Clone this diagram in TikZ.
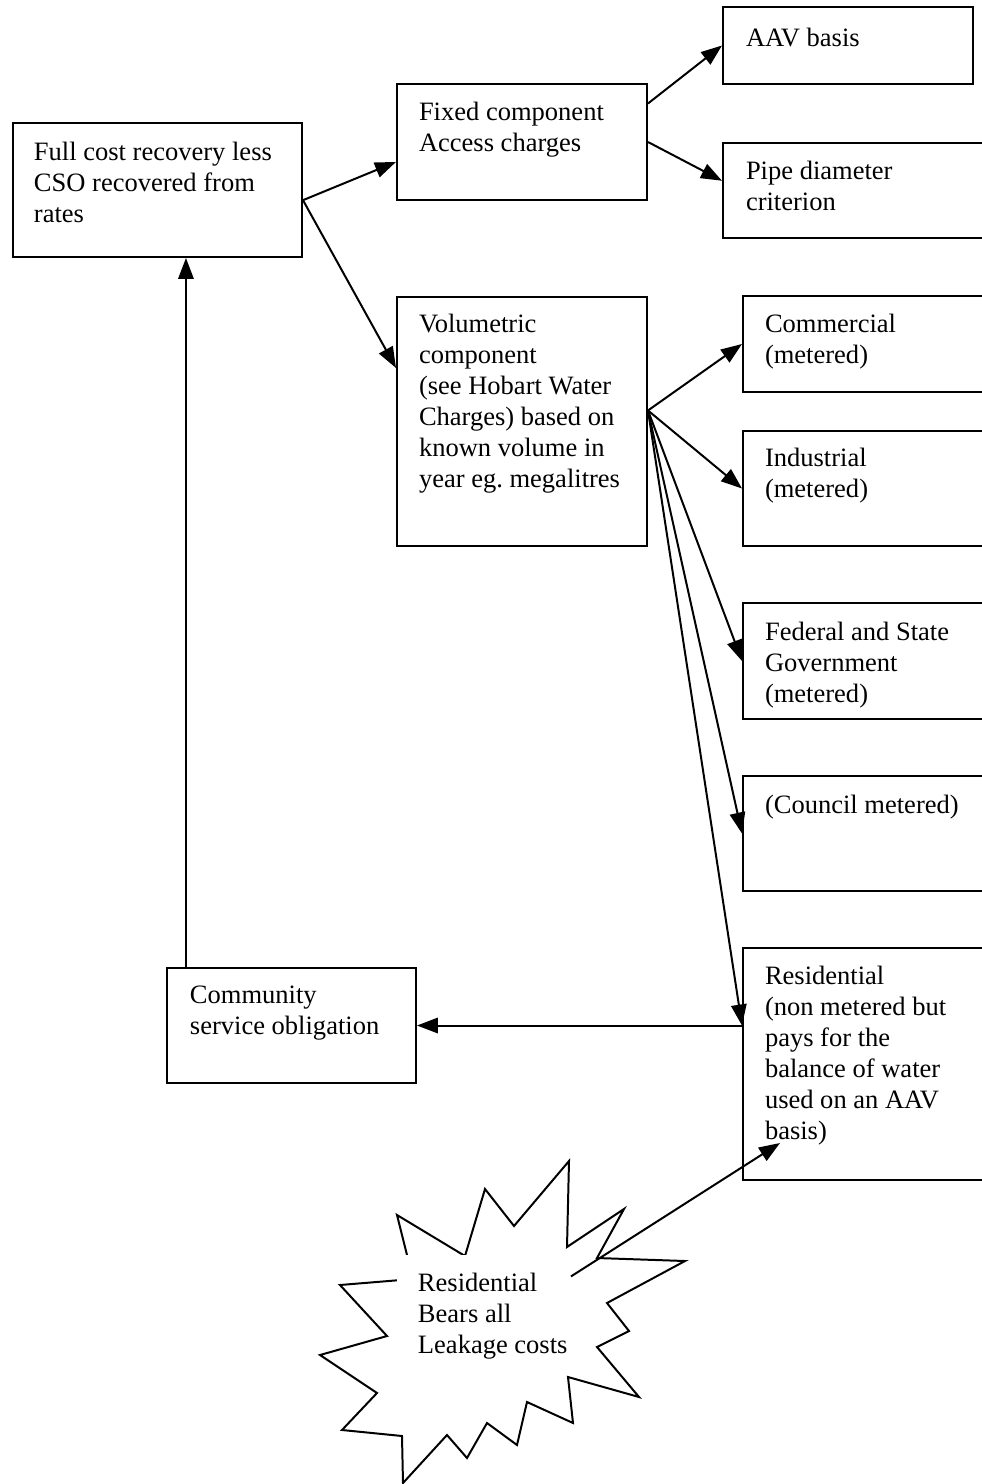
\documentclass[tikz,border=0pt]{standalone}
\usepackage{fontspec}
\setmainfont{Liberation Serif}
\usepackage{tikz}
\usetikzlibrary{arrows.meta,fit}
\frenchspacing

\begin{document}
\begin{tikzpicture}[x=0.4525pt,y=-0.4525pt,->,>={Triangle[length=9.5pt,width=7pt]},line width=0.9pt,
    font=\fontsize{12pt}{14pt}\selectfont]

    \tikzstyle{box}=[draw=black,rectangle,inner sep=0pt]
    \tikzstyle{txt}=[anchor=north west,inner sep=0pt,align=left]

    \clip (0,0) rectangle (982,1484);

    % boxes
    \node[box,fit={(13,123) (302,257)}]   (full)  {};
    \node[box,fit={(397,84) (647,200)}]   (fixed) {};
    \node[box,fit={(723,7) (973,84)}]     (aav)   {};
    \node[box,fit={(723,143) (1000,238)}] (pipe)  {};
    \node[box,fit={(397,297) (647,546)}]  (vol)   {};
    \node[box,fit={(743,296) (1000,392)}] (comm)  {};
    \node[box,fit={(743,431) (1000,546)}] (ind)   {};
    \node[box,fit={(743,603) (1000,719)}] (fed)   {};
    \node[box,fit={(743,776) (1000,891)}] (coun)  {};
    \node[box,fit={(743,948) (1000,1180)}] (res)  {};
    \node[box,fit={(167,968) (416,1083)}] (cso)   {};

    \node[txt] (fullt)  at (33,141)  {Full cost recovery less\\CSO recovered from\\rates};
    \node[txt] (fixedt) at (418,101) {Fixed component\\Access charges};
    \node[txt] (aavt)   at (745,27)  {AAV basis};
    \node[txt] (pipet)  at (745,160) {Pipe diameter\\criterion};
    \node[txt] (volt)   at (418,313) {Volumetric\\component\\(see Hobart Water\\Charges) based on\\known volume in\\year eg. megalitres};
    \node[txt] (commt)  at (764,313) {Commercial\\(metered)};
    \node[txt] (indt)   at (764,447) {Industrial\\(metered)};
    \node[txt] (fedt)   at (764,621) {Federal and State\\Government\\(metered)};
    \node[txt] (count)  at (764,794) {(Council metered)};
    \node[txt] (rest)   at (764,965) {Residential\\(non metered but\\pays for the\\balance of water\\used on an AAV\\basis)};
    \node[txt] (csot)   at (189,985) {Community\\service obligation};

    % burst
    \draw[-] (569,1161) -- (567,1247) -- (624,1209) -- (597,1258) -- (685,1261)
      -- (607,1303) -- (629,1331) -- (597,1347) -- (639,1397) -- (568,1377)
      -- (573,1423) -- (527,1402) -- (517,1445) -- (487,1423) -- (467,1458)
      -- (447,1435) -- (403,1483) -- (402,1436) -- (342,1430) -- (377,1393)
      -- (320,1355) -- (387,1336) -- (340,1285) -- (413,1279) -- (397,1215)
      -- (465,1256) -- (485,1189) -- (514,1226) -- cycle;
    \node[fit={(397,1255) (570,1365)},inner sep=0pt,fill=white] (leak) {};
    \node[txt] (leakt) at (417,1272) {Residential\\Bears all\\Leakage costs};
    \coordinate (restip) at (780,1143);

    \path (full.-4) edge (fixed.189.5)
          (full.-4) edge (vol.157.6)
          (fixed.17.3) edge (aav.west)
          (fixed.east) edge (pipe.176.5)
          (vol.5.3) edge (comm.west)
          (vol.5.3) edge (ind.west)
          (vol.5.3) edge (fed.west)
          (vol.5.3) edge (coun.west)
          (vol.5.3) edge (res.west |- cso.east)
          (res.west |- cso.east) edge (cso.east)
          (cso.151.2) edge (cso.151.2 |- full.south)
          (leak.21.5) edge (restip)
    ;
\end{tikzpicture}
\end{document}
